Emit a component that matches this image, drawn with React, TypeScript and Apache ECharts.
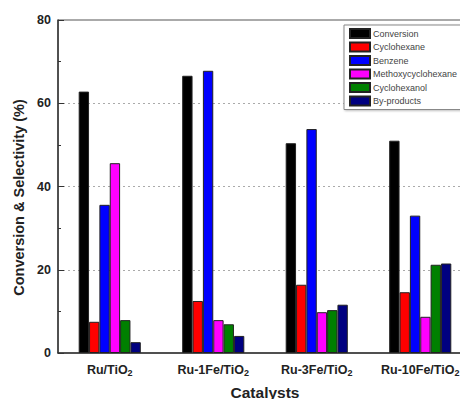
import React, { useEffect, useRef } from "react";
import * as echarts from "echarts";

const categories = ["Ru/TiO2", "Ru-1Fe/TiO2", "Ru-3Fe/TiO2", "Ru-10Fe/TiO2"];
const seriesNames = ["Conversion", "Cyclohexane", "Benzene", "Methoxycyclohexane", "Cyclohexanol", "By-products"];
const seriesColors = ["#000000", "#ff0000", "#0000ff", "#ff00ff", "#008000", "#000080"];
const conversion = [62.8, 66.6, 50.4, 51.0];
const cyclohexane = [7.5, 12.5, 16.4, 14.6];
const benzene = [35.6, 67.8, 53.8, 33.0];
const methoxycyclohexane = [45.6, 7.9, 9.8, 8.7];
const cyclohexanol = [7.9, 6.9, 10.3, 21.2];
const byProducts = [2.6, 4.1, 11.6, 21.5];
const seriesValues = [conversion, cyclohexane, benzene, methoxycyclohexane, cyclohexanol, byProducts];

export default function App() {
  const ref = useRef<HTMLDivElement>(null);
  useEffect(() => {
    if (!ref.current) return;
    const chart = echarts.init(ref.current, undefined, { renderer: "svg" });
    const font = "Arial, 'Liberation Sans', sans-serif";
    chart.setOption({
      animation: false,
      backgroundColor: "#ffffff",
      grid: {
        left: 58, top: 20, width: 414, height: 333, show: true, borderColor: "#555", borderWidth: 1,
        containLabel: false, outerBoundsMode: "none",
      },
      legend: {
        orient: "vertical",
        left: 344,
        top: 25,
        icon: "rect",
        itemWidth: 20,
        itemHeight: 9,
        itemGap: 2.5,
        padding: [3, 30, 3, 5],
        borderColor: "#888",
        borderWidth: 1,
        backgroundColor: "#fff",
        shadowColor: "rgba(0,0,0,0.25)",
        shadowBlur: 2,
        shadowOffsetX: 1,
        shadowOffsetY: 1,
        data: seriesNames,
        textStyle: { fontFamily: font, fontSize: 9, color: "#444", padding: [0, 0, 0, -2] },
      },
      xAxis: {
        type: "category",
        data: categories,
        name: "Catalysts",
        nameLocation: "middle",
        nameGap: 31,
        nameTextStyle: { fontFamily: font, fontSize: 15.5, fontWeight: "bold", color: "#222" },
        axisTick: { show: false },
        axisLine: { lineStyle: { color: "#333", width: 1.5 } },
        axisLabel: {
          interval: 0,
          margin: 9,
          fontFamily: font,
          fontSize: 12.5,
          fontWeight: "bold",
          color: "#222",
          formatter: (v: string) => v.replace(/2$/, "{sub|2}"),
          rich: {
            sub: { fontFamily: font, fontSize: 9, fontWeight: "bold", color: "#222", verticalAlign: "bottom", padding: [6, 0, 0, 0] },
          },
        },
      },
      yAxis: {
        type: "value",
        min: 0,
        max: 80,
        interval: 20,
        name: "Conversion & Selectivity (%)",
        nameLocation: "middle",
        nameGap: 30,
        nameTextStyle: { fontFamily: font, fontSize: 14.5, fontWeight: "bold", color: "#222", padding: [0, 22, 0, 0] },
        axisLine: { show: true, lineStyle: { color: "#333", width: 1.5 } },
        axisTick: { show: true, inside: true, length: 6, lineStyle: { color: "#333" } },
        minorTick: { show: true, splitNumber: 2, length: 3, lineStyle: { color: "#333" } },
        axisLabel: { margin: 7, fontFamily: font, fontSize: 12.5, fontWeight: "bold", color: "#222" },
        splitLine: { show: true, lineStyle: { color: "#aaa", type: [2, 3], width: 1 } },
      },
      series: seriesNames.map((name, i) => ({
        name,
        type: "bar",
        data: seriesValues[i],
        barWidth: 10.35,
        barGap: "0%",
        itemStyle: { color: seriesColors[i], borderColor: "#222", borderWidth: 1 },
      })),
    });
    return () => chart.dispose();
  }, []);
  return <div ref={ref} style={{ position: "fixed", left: 0, top: 0, width: 460, height: 399 }} />;
}
